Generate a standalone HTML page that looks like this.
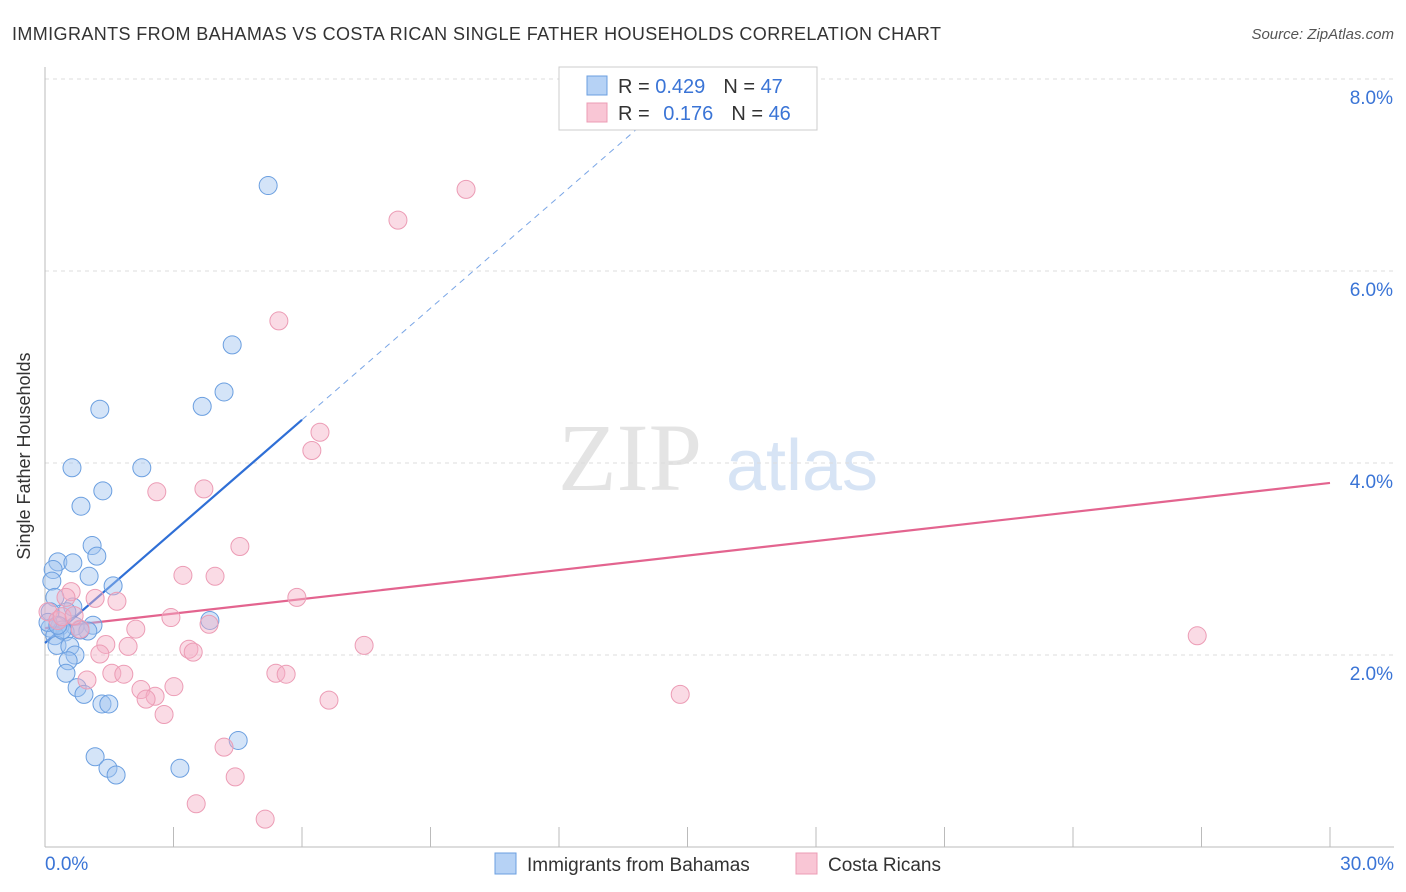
<!DOCTYPE html>
<html><head><meta charset="utf-8"><style>
body{margin:0;background:#fff;font-family:"Liberation Sans",sans-serif;}
svg{display:block}
</style></head><body>
<svg id="chart" width="1406" height="892">
<text x="12" y="40" font-size="18" fill="#333" textLength="929">IMMIGRANTS FROM BAHAMAS VS COSTA RICAN SINGLE FATHER HOUSEHOLDS CORRELATION CHART</text>
<text x="1394" y="39" font-size="15" fill="#555" font-style="italic" text-anchor="end">Source: ZipAtlas.com</text>
<text x="30" y="456" font-size="18" fill="#333" text-anchor="middle" transform="rotate(-90 30 456)">Single Father Households</text>
<g><text x="630" y="490" font-size="96" fill="#e4e4e4" font-family="Liberation Serif" text-anchor="middle">ZIP</text><text x="802" y="490" font-size="72" fill="#d7e4f5" text-anchor="middle">atlas</text></g>
<g id="grid"></g><g id="axes"></g><g id="trends"></g><g id="pts"></g>
<g>
<rect x="559" y="67" width="258" height="63" fill="#fff" stroke="#ccc"/>
<rect x="587" y="76" width="20" height="19" fill="#b6d2f5" stroke="#6b9fe0"/>
<rect x="587" y="103" width="20" height="19" fill="#f9c6d5" stroke="#ec9cb5"/>
<text x="618" y="93" font-size="20" fill="#333">R = <tspan fill="#3a74d6">0.429</tspan><tspan dx="18">N = </tspan><tspan fill="#3a74d6">47</tspan></text>
<text x="618" y="120" font-size="20" fill="#333">R = <tspan dx="8" fill="#3a74d6">0.176</tspan><tspan dx="18">N = </tspan><tspan fill="#3a74d6">46</tspan></text>
</g>
<g>
<rect x="495" y="853" width="21" height="21" fill="#b6d2f5" stroke="#6b9fe0"/>
<text x="527" y="871" font-size="19" fill="#333">Immigrants from Bahamas</text>
<rect x="796" y="853" width="21" height="21" fill="#f9c6d5" stroke="#ec9cb5"/>
<text x="828" y="871" font-size="19" fill="#333">Costa Ricans</text>
</g>
</svg>
<script>
const xTicks=[0,3,6,9,12,15,18,21,24,27,30];
const yTicks=[2,4,6,8];
const blueX=[5.21,4.37,4.18,3.67,1.28,0.63,2.26,1.35,0.84,1.10,1.21,0.30,0.65,0.19,1.03,0.16,1.59,0.23,0.65,0.51,0.12,3.85,1.12,0.70,0.35,0.12,1.00,0.47,0.23,0.28,0.58,0.70,0.54,0.49,0.75,0.91,1.33,1.49,4.51,1.17,1.47,3.15,1.66,0.40,0.07,0.82,0.30];
const blueY=[6.89,5.23,4.74,4.59,4.56,3.95,3.95,3.71,3.55,3.14,3.03,2.97,2.96,2.89,2.82,2.77,2.72,2.60,2.50,2.45,2.45,2.36,2.31,2.30,2.30,2.28,2.25,2.24,2.20,2.10,2.09,2.00,1.94,1.81,1.66,1.59,1.49,1.49,1.11,0.94,0.82,0.82,0.75,2.26,2.34,2.26,2.31];
const pinkX=[9.83,8.24,5.46,6.42,6.23,3.71,2.61,4.55,3.22,3.97,0.61,1.17,1.68,5.88,0.49,2.94,3.83,2.12,0.82,0.07,0.30,26.90,7.45,3.36,3.46,1.94,1.42,1.28,5.39,5.63,1.56,1.84,0.98,3.01,2.24,2.57,2.36,6.63,2.78,14.83,4.18,4.44,3.53,5.14,0.40,0.68];
const pinkY=[6.85,6.53,5.48,4.32,4.13,3.73,3.70,3.13,2.83,2.82,2.66,2.59,2.56,2.60,2.60,2.39,2.32,2.27,2.27,2.45,2.36,2.20,2.10,2.06,2.03,2.09,2.11,2.01,1.81,1.80,1.81,1.80,1.74,1.67,1.64,1.57,1.54,1.53,1.38,1.59,1.04,0.73,0.45,0.29,2.40,2.41];
const blueTrend=[2.125,0.3875];
const pinkTrend=[2.28,0.0504];
const NS='http://www.w3.org/2000/svg';
const X=v=>45+v*(1285/30), Y=v=>847-v*96;
function mk(p,t,a){const e=document.createElementNS(NS,t);for(const k in a)e.setAttribute(k,a[k]);p.appendChild(e);return e;}
const grid=document.getElementById('grid'),axes=document.getElementById('axes');
yTicks.forEach(t=>{
 const l=mk(grid,'line',{x1:45,x2:1394,y1:Y(t),y2:Y(t),stroke:'#ddd','stroke-dasharray':'4 4'});
 
 
 const tx=mk(axes,'text',{x:1393,y:Y(t)+25,'font-size':19,fill:'#3a74d6','text-anchor':'end'});
 tx.textContent=t.toFixed(1)+'%';
 
 
});
const xa=mk(axes,'line',{x1:45,x2:1394,y1:847,y2:847,stroke:'#bbb'});


const ya=mk(axes,'line',{x1:45,x2:45,y1:67,y2:847,stroke:'#bbb'});


xTicks.forEach(t=>{
 const l=mk(axes,'line',{x1:X(t),x2:X(t),y1:827,y2:847,stroke:'#bbb'});
 
 
});
[[0,45,'start'],[30,1394,'end']].forEach(([v,x,a])=>{
 const tx=mk(axes,'text',{x:x,y:870,'font-size':19,fill:'#3a74d6','text-anchor':a});
 tx.textContent=v.toFixed(1)+'%';
 
 
});
const tr=document.getElementById('trends');
const bs=mk(tr,'line',{x1:X(0),y1:Y(blueTrend[0]),x2:X(6),y2:Y(blueTrend[0]+6*blueTrend[1]),stroke:'#2f6fd6','stroke-width':2.2});


const bd=mk(tr,'line',{x1:X(6),y1:Y(blueTrend[0]+6*blueTrend[1]),x2:X(14.2),y2:Y(blueTrend[0]+14.2*blueTrend[1]),stroke:'#7aa6e6','stroke-width':1,'stroke-dasharray':'6 5'});


const pl=mk(tr,'line',{x1:X(0),y1:Y(pinkTrend[0]),x2:X(30),y2:Y(pinkTrend[0]+30*pinkTrend[1]),stroke:'#e3648f','stroke-width':2.2});


const pts=document.getElementById('pts');
blueX.forEach((v,i)=>{
 const c=mk(pts,'circle',{cx:X(v),cy:Y(blueY[i]),r:9,fill:'rgba(160,196,240,0.45)',stroke:'#6b9fe0','stroke-width':1});
 
 
});
pinkX.forEach((v,i)=>{
 const c=mk(pts,'circle',{cx:X(v),cy:Y(pinkY[i]),r:9,fill:'rgba(245,175,198,0.45)',stroke:'#ec9cb5','stroke-width':1});
 
 
});
</script>
</body></html>
